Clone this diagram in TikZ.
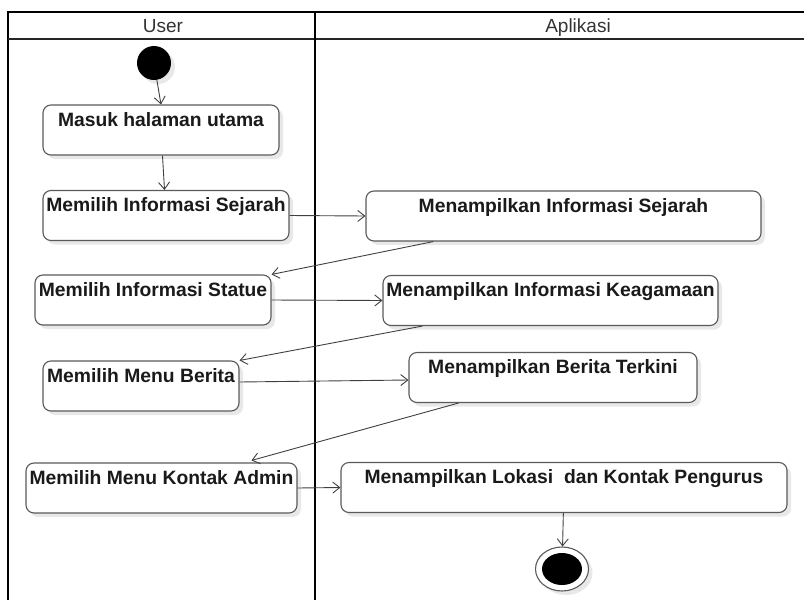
\documentclass[tikz,border=0pt]{standalone}
\usepackage{fontspec}
\setmainfont{Liberation Sans}
\usepackage{tikz}
\usetikzlibrary{arrows.meta,shapes.geometric,shadows}
\definecolor{actLine}{HTML}{5A5A5A}
\definecolor{actText}{HTML}{1A1A1A}
\definecolor{flowLine}{HTML}{404040}
\definecolor{headText}{HTML}{333333}
\definecolor{shadowGray}{HTML}{E8E8E8}

\begin{document}
\begin{tikzpicture}[
    x=1pt,y=-1pt,
    lane/.style={draw=black,line width=1.9pt},
    head/.style={text=headText,font=\fontsize{19}{22}\selectfont,anchor=base,inner sep=0pt},
    act/.style={draw=actLine,line width=1.1pt,fill=white,rounded corners=8pt,
                minimum height=50pt,inner sep=0pt,text height=13.5pt,text depth=21.5pt,
                text=actText,font=\fontsize{19.3}{22}\selectfont\bfseries,
                drop shadow={shadow xshift=4pt,shadow yshift=-4pt,fill=shadowGray,opacity=1}},
    init/.style={circle,fill=black,minimum size=34pt,inner sep=0pt,
                 drop shadow={shadow xshift=4pt,shadow yshift=-4pt,fill=shadowGray,opacity=1}},
    final/.style={ellipse,draw=actLine,line width=1.1pt,fill=white,minimum width=53pt,
                  minimum height=44pt,inner sep=0pt,
                  path picture={\fill[black] (path picture bounding box.center) ellipse (20pt and 16pt);},
                  drop shadow={shadow xshift=4pt,shadow yshift=-4pt,fill=shadowGray,opacity=1}},
    flow/.style={-{Straight Barb[length=7pt,width=11pt]},draw=flowLine,line width=0.9pt}
  ]
    \useasboundingbox (0,0) rectangle (804,600);
    \clip (0,0) rectangle (804,600);

    % swimlanes
    \draw[lane] (8,640) -- (8,12) -- (860,12);
    \draw[lane,draw=black!85] (8,39) -- (860,39);
    \draw[lane] (315,12) -- (315,640);
    \node[head] (user) at (163,32) {User};
    \node[head] (apl)  at (578,32) {Aplikasi};

    \node[init] (start) at (154,63) {};

    \node[act,minimum width=236pt] (masuk)     at (161,130)   {Masuk halaman utama};
    \node[act,minimum width=246pt] (pilSejarah) at (166,215.5) {Memilih Informasi Sejarah};
    \node[act,minimum width=395pt] (tamSejarah) at (563.5,216) {Menampilkan Informasi Sejarah};
    \node[act,minimum width=236pt] (pilStatue)  at (153,300)   {Memilih Informasi Statue};
    \node[act,minimum width=335pt] (tamAgama)   at (550.5,300.5) {Menampilkan Informasi Keagamaan};
    \node[act,minimum width=196pt] (pilBerita)  at (141,386)   {Memilih Menu Berita};
    \node[act,minimum width=288pt] (tamBerita)  at (553,377.5) {Menampilkan Berita Terkini};
    \node[act,minimum width=271pt] (pilKontak)  at (161.5,488) {Memilih Menu Kontak Admin};
    \node[act,minimum width=446pt] (tamKontak)  at (564,487.5) {Menampilkan Lokasi\ \ dan Kontak Pengurus};

    \node[final] (end) at (562,569) {};

    \draw[flow] (start) -- (masuk.north);
    \draw[flow] (masuk) -- (pilSejarah);
    \draw[flow] (pilSejarah.east) -- (tamSejarah.west);
    \draw[flow] ([xshift=68pt]tamSejarah.south west) -- (pilStatue.north east);
    \draw[flow] (pilStatue.east) -- (tamAgama.west);
    \draw[flow] ([xshift=40pt]tamAgama.south west) -- (pilBerita.north east);
    \draw[flow] ([yshift=4pt]pilBerita.east) -- ([yshift=-2.5pt]tamBerita.west);
    \draw[flow] ([xshift=50pt]tamBerita.south west) -- ([xshift=90pt,yshift=2pt]pilKontak.north);
    \draw[flow] (pilKontak.east) -- (tamKontak.west);
    \draw[flow] (tamKontak) -- (end);
  \end{tikzpicture}
\end{document}
